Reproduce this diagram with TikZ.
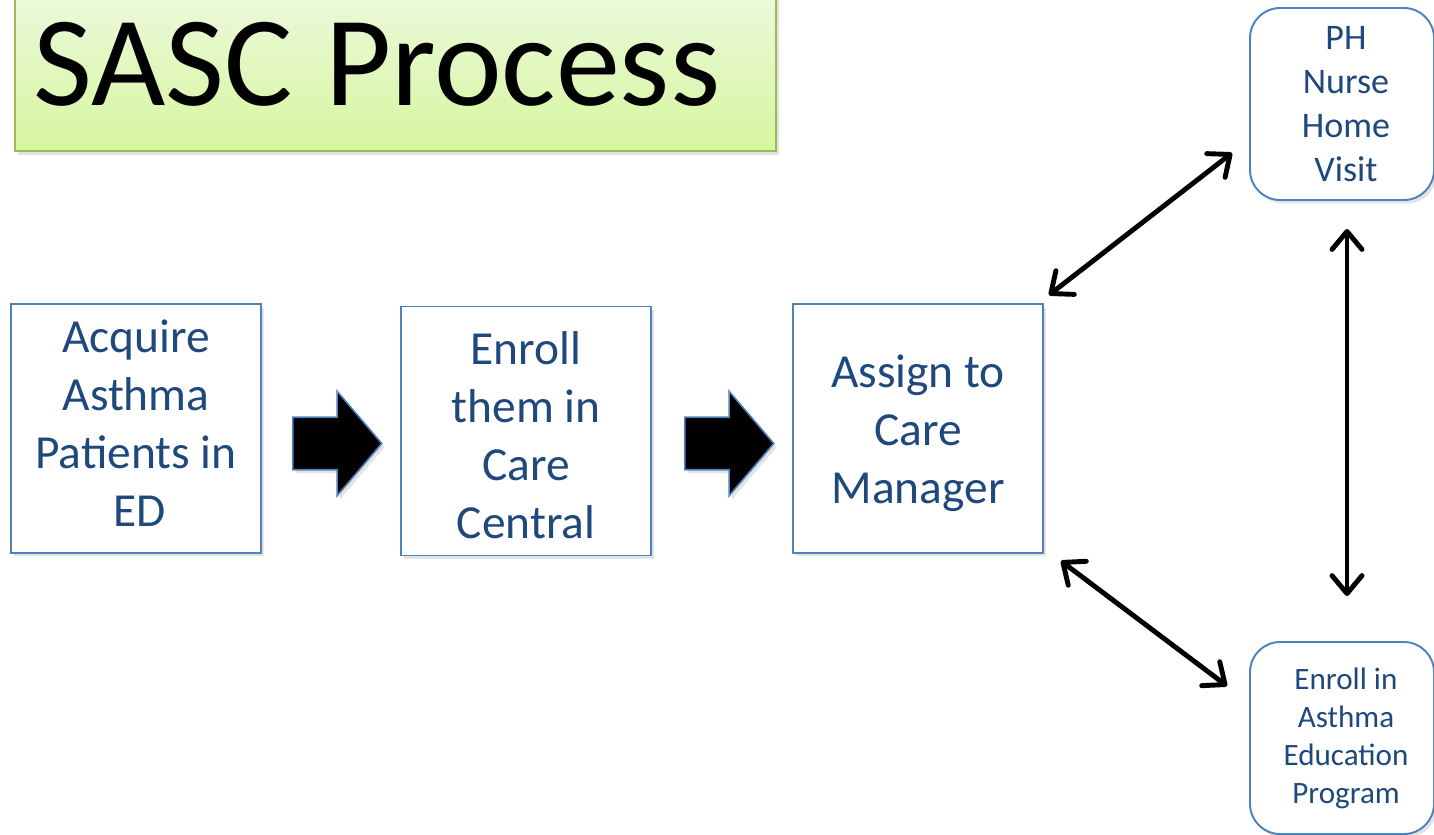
\documentclass[tikz,border=0pt]{standalone}
\usepackage{fontspec}
\setmainfont{Carlito}
\usetikzlibrary{shapes.arrows,arrows.meta,shadows}

\definecolor{boxblue}{RGB}{79,129,189}
\definecolor{textblue}{RGB}{31,73,125}
\definecolor{titleline}{RGB}{155,187,89}
\definecolor{titletop}{RGB}{238,249,226}
\definecolor{titlebottom}{RGB}{214,246,158}

% extra room above the first line / below the last line
\newcommand{\padtop}[1]{\raisebox{#1}{\vphantom{l}}}
\newcommand{\padbot}[1]{\raisebox{-#1}{\vphantom{E}}}

\tikzset{
  softshadow/.style={drop shadow={shadow xshift=0.06cm, shadow yshift=-0.07cm, opacity=0.22}},
  stepbox/.style={draw=boxblue, line width=1.1pt, fill=white, minimum width=5cm,
    minimum height=4.98cm, inner sep=0pt, align=center, text=textblue,
    font=\fontsize{27}{33}\selectfont, softshadow},
  sidebox/.style={draw=boxblue, line width=1.1pt, fill=white, rounded corners=0.6cm,
    minimum width=3.68cm, minimum height=3.84cm, inner sep=0pt, align=center,
    text=textblue, softshadow},
  blockarrow/.style={single arrow, draw=boxblue, line width=0.9pt, fill=black,
    inner xsep=0pt, inner ysep=0.51cm, text height=0pt, text depth=0pt,
    single arrow head extend=0.52cm, single arrow tip angle=99,
    minimum height=1.78cm, anchor=tail, softshadow},
  link/.style={line width=2.8pt, black,
    {Straight Barb[round,length=0.36cm,width=0.6cm]}-{Straight Barb[round,length=0.36cm,width=0.6cm]}},
}

\begin{document}
\begin{tikzpicture}[x=0.02cm,y=-0.02cm]
\useasboundingbox (0,0) rectangle (1434,835);

% Title
\node[draw=titleline, line width=1.2pt, top color=titletop, bottom color=titlebottom,
  anchor=north west, minimum width=15.22cm, minimum height=3.46cm, text width=14.5cm,
  align=left, inner xsep=0.36cm, inner ysep=0pt, font=\fontsize{73}{80}\selectfont,
  softshadow] (title) at (14,-23) {SASC\hspace{-0.2cm} Process};

% Main steps
\node[stepbox] (acquire) at (136,428.5) {Acquire\\Asthma\\Patients in\\\hspace{0.15cm}ED\padbot{0.22cm}};
\node[stepbox] (enroll) at (526,431) {\padtop{0.18cm}Enroll\\them in\\Care\\Central};
\node[stepbox] (assign) at (918,428.5) {\padtop{0.2cm}Assign to\\Care\\Manager};

% Block arrows between steps
\node[blockarrow] (arrA) at (292,443.5) {};
\node[blockarrow] (arrB) at (684,443.5) {};

% Follow-up services
\node[sidebox, font=\fontsize{20.5}{25}\selectfont] (nurse) at (1342,104) {\hspace{0.16cm}PH\\\hspace{0.16cm}Nurse\\\hspace{0.16cm}Home\\\hspace{0.16cm}Visit};
\node[sidebox, font=\fontsize{17.7}{21.6}\selectfont] (educ) at (1342,738) {\hspace{0.16cm}Enroll in\\\hspace{0.16cm}Asthma\\\hspace{0.16cm}Education\\\hspace{0.16cm}Program};

% Two-way links
\draw[link] ([shift={(5,-8)}]assign.north east) -- ([shift={(-17,-48)}]nurse.south west);
\draw[link] ([shift={(5,28)}]nurse.south) -- ([shift={(5,-45)}]educ.north);
\draw[link] ([shift={(17,7)}]assign.south east) -- ([shift={(-22,-52)}]educ.west);

\end{tikzpicture}
\end{document}
